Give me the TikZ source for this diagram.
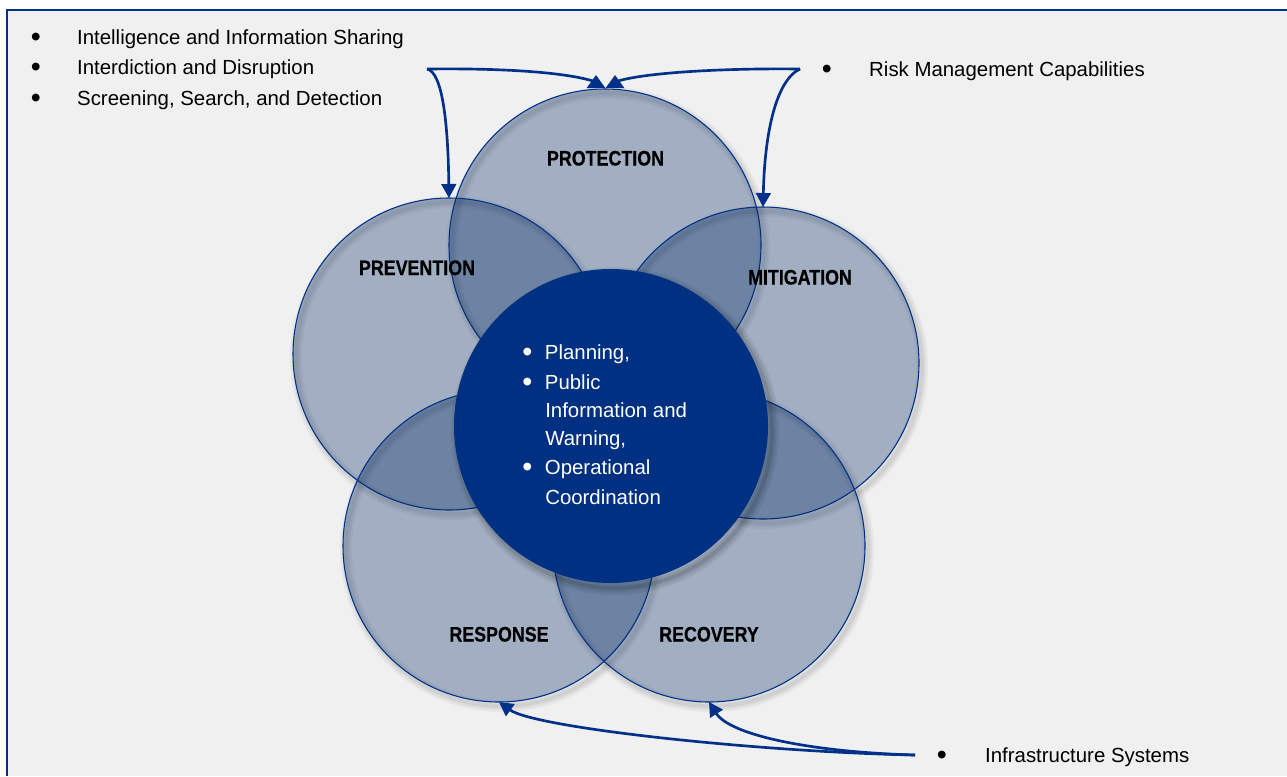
\documentclass[tikz,border=0pt]{standalone}
\usepackage{fontspec}
\setmainfont{Liberation Sans}
\newfontfamily\labfont[FakeStretch=0.85,FakeBold=0.6]{Liberation Sans}
\usetikzlibrary{arrows.meta}
\definecolor{bgc}{RGB}{240,240,240}
\definecolor{navy}{RGB}{0,48,135}
\definecolor{cfill}{RGB}{0,40,100}
\definecolor{corec}{RGB}{0,48,130}
\newcommand{\bul}{\raisebox{-0.12em}{\scalebox{1.4}{•}}}
\tikzset{
  ring/.style={circle, minimum size=234pt, inner sep=0pt, outer sep=0pt, draw=navy, line width=0.8pt, fill=cfill, fill opacity=0.32},
  corestyle/.style={circle, minimum size=235.5pt, inner sep=0pt, outer sep=0pt, fill=corec},
  lab/.style={anchor=base, inner sep=0pt, font=\labfont\bfseries\fontsize{15.75}{18}\selectfont, text=black},
  item/.style={anchor=base west, inner sep=0pt, font=\fontsize{15.3}{18}\selectfont, text=black},
  citem/.style={item, text=white},
  conn/.style={draw=navy, line width=2pt, -{Triangle[length=10.5pt,width=11pt]}},
  connup/.style={draw=navy, line width=2pt, -{Triangle[length=9.75pt,width=13.5pt]}},
}
\begin{document}
\begin{tikzpicture}[x=0.75pt,y=-0.75pt]
\useasboundingbox (0,0) rectangle (1287,776);
\fill[white] (0,0) rectangle (1287,776);
\fill[bgc] (7,10) rectangle (1287,776);
\draw[navy, line width=1.5pt] (7,776) -- (7,10) -- (1287,10);

% soft shadows of the outer circles
\foreach \cx/\cy in {605/245, 449/354, 763/363, 499/546, 709/546} {
  \foreach \w/\o in {12/0.035, 8/0.045, 4/0.055}
    \draw[black, opacity=\o, line width=\w*0.75pt] (\cx+3,\cy+4) circle[radius=117pt];
}

\node[ring] (prot) at (605,245) {};
\node[ring] (prev) at (449,354) {};
\node[ring] (mit)  at (763,363) {};
\node[ring] (resp) at (499,546) {};
\node[ring] (rec)  at (709,546) {};

% shadow of the core circle
\foreach \w/\o in {14/0.06, 9/0.08, 4/0.1}
  \draw[black, opacity=\o, line width=\w*0.75pt] (615,431) circle[radius=117.75pt];
\node[corestyle] (core) at (611,426) {};

% circle labels
\node[lab] (tprot) at (605.5,165.5) {PROTECTION};
\node[lab] (tprev) at (417,275) {PREVENTION};
\node[lab] (tmit)  at (800,284.5) {MITIGATION};
\node[lab] (tresp) at (499,641.5) {RESPONSE};
\node[lab] (trec)  at (709,641.5) {RECOVERY};

% core text
\node[citem] (c1) at (522,359) {\makebox[17pt][l]{\bul}Planning,};
\node[citem] (c2) at (522,389) {\makebox[17pt][l]{\bul}Public};
\node[citem] (c3) at (545,417) {Information and};
\node[citem] (c4) at (545,445) {Warning,};
\node[citem] (c5) at (522,474) {\makebox[17pt][l]{\bul}Operational};
\node[citem] (c6) at (545,504) {Coordination};

% side lists
\node[item] (l1) at (30.5,44) {\makebox[34.8pt][l]{\bul}Intelligence and Information Sharing};
\node[item] (l2) at (30.5,74.5) {\makebox[34.8pt][l]{\bul}Interdiction and Disruption};
\node[item] (l3) at (30.5,105) {\makebox[34.8pt][l]{\bul}Screening, Search, and Detection};
\node[item] (r1) at (821.5,76) {\makebox[35.6pt][l]{\bul}Risk Management Capabilities};
\node[item] (b1) at (936.5,762.5) {\makebox[36.3pt][l]{\bul}Infrastructure Systems};

% connectors
\coordinate (hl) at (427,69);
\coordinate (hr) at (800,69);
\coordinate (hb) at (915,755);
\coordinate (pt1) at (596,75);
\coordinate (pt2) at (615,75);
\draw[connup] (hl) .. controls (510,68) and (570,73) .. (596,82) -- (pt1);
\draw[conn] (hl) .. controls (442,72) and (448,120) .. (prev.north);
\draw[connup] (hr) .. controls (720,68) and (640,73) .. (615,82) -- (pt2);
\draw[conn] (hr) .. controls (780,78) and (765,120) .. (mit.north);
\draw[conn] (hb) .. controls (760,752) and (535,728) .. (resp.south);
\draw[conn] (hb) .. controls (810,752) and (730,735) .. (rec.south);
\end{tikzpicture}
\end{document}
